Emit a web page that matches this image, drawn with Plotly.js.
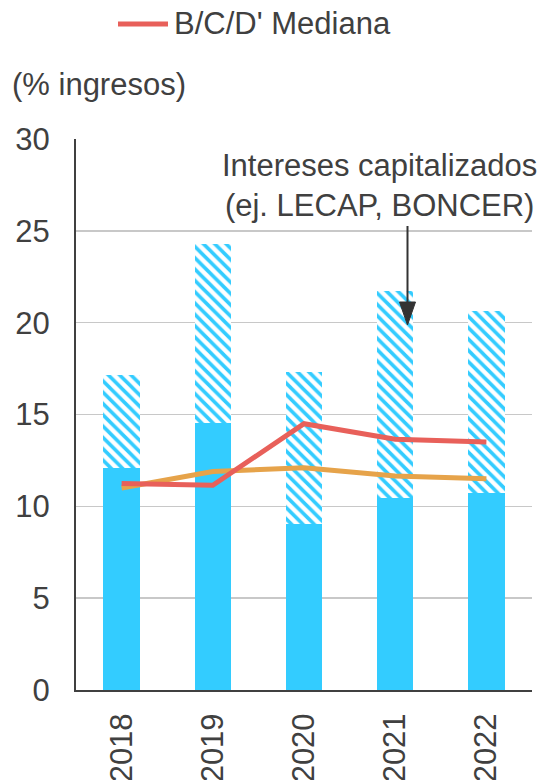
<!DOCTYPE html>
<html>
<head>
<meta charset="utf-8">
<script src="https://cdn.plot.ly/plotly-3.0.1.min.js"></script>
<style>
  html, body { margin: 0; padding: 0; background: #ffffff; }
  #chart { width: 539px; height: 780px; }
</style>
</head>
<body>
<div id="chart"></div>
<script>
// Years on the category axis
var years = ['2018', '2019', '2020', '2021', '2022'];

// Interest paid, % of revenue (solid part of each bar)
var interesesPagados = [12.1, 14.55, 9.05, 10.45, 10.75];

// Capitalized interest, % of revenue (hatched part stacked on top)
var interesesCapitalizados = [5.05, 9.75, 8.25, 11.25, 9.9];

// Median of the B/C/D' group
var medianaBCD = [11.25, 11.15, 14.5, 13.65, 13.5];

// Second reference line (orange)
var referencia = [11.0, 11.9, 12.1, 11.65, 11.5];

var legendLabel = "B/C/D' Mediana";

var FONT = '"Liberation Sans", Arial, sans-serif';
var FS = 31;
var TXT = '#404040';
var BLUE = '#33ccff';
var RED = '#e8605a';

// plot area in pixels: x 76..532, y 139..690
var PL = 76, PR = 532, PT = 139, PB = 690;
function px2paperX(px) { return (px - PL) / (PR - PL); }
function px2paperY(py) { return (PB - py) / (PB - PT); }

var traces = [
  {
    type: 'bar', x: years, y: interesesPagados,
    marker: { color: BLUE, line: { width: 0 } },
    showlegend: false, hoverinfo: 'skip'
  },
  {
    type: 'bar', x: years, y: interesesCapitalizados,
    marker: {
      color: '#ffffff',
      line: { width: 0 },
      pattern: { shape: '\\', fgcolor: BLUE, bgcolor: '#ffffff', size: 8, solidity: 0.45 }
    },
    showlegend: false, hoverinfo: 'skip'
  },
  {
    type: 'scatter', mode: 'lines', x: years, y: referencia,
    line: { color: '#e6a34a', width: 5 },
    showlegend: false, hoverinfo: 'skip'
  },
  {
    type: 'scatter', mode: 'lines', x: years, y: medianaBCD,
    name: legendLabel,
    line: { color: RED, width: 5 },
    showlegend: false, hoverinfo: 'skip'
  }
];

var layout = {
  width: 539, height: 780,
  paper_bgcolor: '#ffffff', plot_bgcolor: '#ffffff',
  margin: { l: PL, r: 539 - PR, t: PT, b: 780 - PB, pad: 0 },
  font: { family: FONT, size: FS, color: TXT },
  barmode: 'stack',
  bargap: 0.6,
  showlegend: false,
  xaxis: {
    type: 'category',
    showgrid: false,
    showline: true, linecolor: '#404040', linewidth: 2,
    ticks: '',
    tickangle: -90,
    ticklabelstandoff: 9,
    tickfont: { family: FONT, size: FS, color: TXT },
    zeroline: false
  },
  yaxis: {
    range: [0, 30],
    tickvals: [0, 5, 10, 15, 20, 25, 30],
    showgrid: true, gridcolor: '#c8c8c8', gridwidth: 1.5,
    showline: true, linecolor: '#404040', linewidth: 2,
    ticks: '',
    ticklabelstandoff: 18,
    tickfont: { family: FONT, size: FS, color: TXT },
    zeroline: false
  },
  annotations: [
    // legend entry for the median line
    {
      xref: 'paper', yref: 'paper',
      x: px2paperX(172), xanchor: 'left',
      y: px2paperY(24), yanchor: 'middle',
      text: legendLabel, showarrow: false,
      font: { family: FONT, size: FS, color: TXT }
    },
    // unit label
    {
      xref: 'paper', yref: 'paper',
      x: px2paperX(10), xanchor: 'left',
      y: px2paperY(85), yanchor: 'middle',
      text: '(% ingresos)', showarrow: false,
      font: { family: FONT, size: FS, color: TXT }
    },
    {
      xref: 'paper', yref: 'paper',
      x: px2paperX(539), xanchor: 'right',
      y: px2paperY(185), yanchor: 'middle',
      text: 'Intereses capitalizados<br>(ej. LECAP, BONCER)',
      align: 'center', showarrow: false,
      font: { family: FONT, size: FS, color: TXT }
    }
  ],
  shapes: [
    // legend line sample
    {
      type: 'line', xref: 'paper', yref: 'paper',
      x0: px2paperX(118), x1: px2paperX(168),
      y0: px2paperY(24), y1: px2paperY(24),
      line: { color: RED, width: 5 }
    },
    // arrow pointing at the capitalized-interest segment
    {
      type: 'path', xref: 'paper', yref: 'paper',
      xsizemode: 'pixel', ysizemode: 'pixel',
      xanchor: px2paperX(407.5), yanchor: px2paperY(325),
      path: 'M0,20 L0,99',
      line: { color: '#333333', width: 2 }
    },
    {
      type: 'path', xref: 'paper', yref: 'paper',
      xsizemode: 'pixel', ysizemode: 'pixel',
      xanchor: px2paperX(407.5), yanchor: px2paperY(325),
      path: 'M-8,23 L8,23 L0,0 Z',
      fillcolor: '#333333',
      line: { color: '#333333', width: 1 }
    }
  ]
};

Plotly.newPlot('chart', traces, layout, { displayModeBar: false, staticPlot: true });
</script>
</body>
</html>
